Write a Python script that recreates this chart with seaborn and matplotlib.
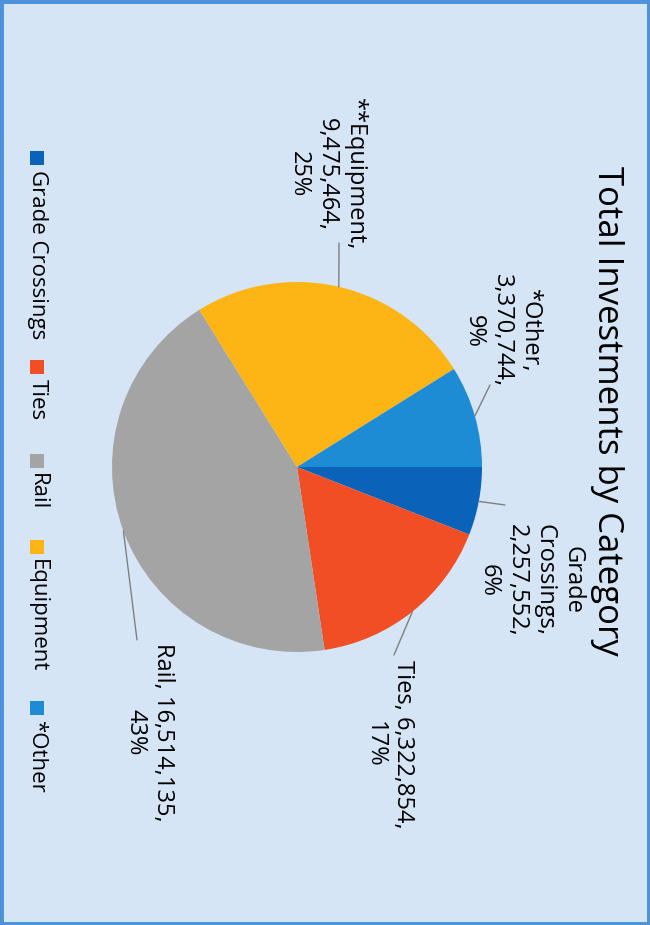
import matplotlib
matplotlib.use("Agg")
import matplotlib.pyplot as plt
import seaborn as sns
import numpy as np
from matplotlib.patches import Rectangle

sns.set_theme(style="white")
plt.rcParams['font.family'] = ['Open Sans', 'DejaVu Sans']

categories = ["Grade Crossings", "Ties", "Rail", "Equipment", "*Other"]
label_names = ["Grade\nCrossings", "Ties", "Rail", "**Equipment", "*Other"]
values = [2257552, 6322854, 16514135, 9475464, 3370744]
percents = ["6%", "17%", "43%", "25%", "9%"]
colors = ["#0A63B9", "#F24E25", "#A4A4A4", "#FDB515", "#1E8BD5"]
title = "Total Investments by Category"

W, H = 650, 925
fig = plt.figure(figsize=(W / 100, H / 100), dpi=100)
bg = "#D5E5F6"
fig.patch.set_facecolor(bg)
ax = fig.add_axes([0, 0, 1, 1])
ax.set_facecolor(bg)

cx, cy, r = 297, H - 467, 185
wedges, _ = ax.pie(values, colors=colors, startangle=0, counterclock=False,
                   center=(cx, cy), radius=r, frame=True,
                   wedgeprops=dict(linewidth=0))
ax.set_xlim(0, W)
ax.set_ylim(0, H)
ax.set_aspect("equal")
ax.axis("off")

# data labels (positions in pixel coords of the image, y measured from top)
label_pos = [(531, 580), (389, 744), (149, 732), (327, 174), (502, 331)]
line_end = [(505, 505), (394, 655), (137, 640), (339, 243), (490, 385)]


def fmt(v):
    return f"{v:,}"


for i, w in enumerate(wedges):
    if i in (1, 2):
        txt = f"{label_names[i]}, {fmt(values[i])},\n{percents[i]}"
    else:
        txt = f"{label_names[i]},\n{fmt(values[i])},\n{percents[i]}"
    lx, ly = label_pos[i]
    ax.text(lx, H - ly, txt, rotation=-90, ha="center", va="center",
            multialignment="center", fontsize=17, color="black",
            fontweight="medium", linespacing=1.22)
    ang = np.deg2rad((w.theta1 + w.theta2) / 2)
    px, py = cx + r * np.cos(ang), cy + r * np.sin(ang)
    ex, ey = line_end[i]
    ax.plot([px, ex], [py, H - ey], color="#7F7F7F", lw=1.0)

# title
ax.text(607, H - 411, title, rotation=-90, ha="center", va="center",
        fontsize=25, color="black")

# legend (rotated)
leg_y = [158, 367, 461, 547, 708]
for i, c in enumerate(categories):
    y0 = H - leg_y[i]
    ax.add_patch(Rectangle((30, y0 - 7), 14, 14, color=colors[i], lw=0))
    ax.text(37, y0 - 12, c, rotation=-90, ha="center", va="top",
            fontsize=16, color="black", fontweight="medium")

# border frame
fig.patches.append(Rectangle((0, 0), 1, 1, transform=fig.transFigure,
                             fill=False, edgecolor="#4D93D9", lw=5))

fig.savefig("out.png", dpi=100, facecolor=bg)
